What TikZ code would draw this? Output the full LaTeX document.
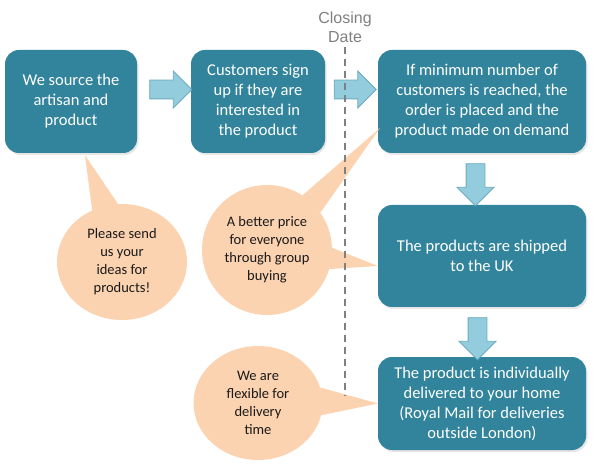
\documentclass[tikz,border=0pt]{standalone}
\usepackage{fontspec}
\setmainfont{Carlito}
\newfontfamily\datefont{Liberation Sans}
\usetikzlibrary{shapes.geometric,shapes.arrows,calc,shadows}
\definecolor{boxteal}{HTML}{31849B}
\definecolor{arrowblue}{HTML}{93CDDD}
\definecolor{arrowline}{HTML}{6AAABF}
\definecolor{bubblepeach}{HTML}{FCD3B0}
\definecolor{bubbletext}{HTML}{1A1A1A}
\definecolor{dategrey}{HTML}{808080}

\begin{document}
\begin{tikzpicture}[x=1pt, y=1pt,
    stage/.style={rectangle, rounded corners=14pt, fill=boxteal, text=white, align=center,
        inner sep=0pt, font=\fontsize{16.5}{20}\selectfont,
        drop shadow={opacity=0.2, shadow xshift=1.5pt, shadow yshift=-2pt}},
    blockarrow/.style={single arrow, draw=arrowline, fill=arrowblue, line width=0.8pt,
        minimum height=42pt, minimum width=36pt, single arrow head extend=9pt,
        inner xsep=0pt, inner ysep=9pt},
    bubble/.style={ellipse, fill=bubblepeach, text=bubbletext, align=center,
        inner sep=0pt, font=\fontsize{14.5}{18}\selectfont},
    tail/.style={fill=bubblepeach},
    cutoff/.style={draw=dategrey, line width=1.5pt, dash pattern=on 7pt off 5pt}]
    \useasboundingbox (0,0) rectangle (600,464);

    % Process steps
    \node[stage, minimum width=132pt, minimum height=103pt] (source) at (71,362.5)
        {We source the\\artisan and\\product};
    \node[stage, minimum width=134pt, minimum height=103pt] (signup) at (258,362.5)
        {Customers sign\\up if they are\\interested in\\the product};
    \node[stage, minimum width=208pt, minimum height=103pt] (order) at (482,362.5)
        {If minimum number of\\customers is reached, the\\order is placed and the\\product made on demand};
    \node[stage, minimum width=208pt, minimum height=102pt] (ship) at (482,208)
        {The products are shipped\\to the UK};
    \node[stage, minimum width=208pt, minimum height=93pt] (deliver) at (482,60.5)
        {The product is individually\\delivered to your home\\(Royal Mail for deliveries\\outside London)};

    % Block arrows between the steps
    \node[blockarrow] (arrowA) at (166,374.5) {};
    \node[blockarrow] (arrowB) at (350.5,374.5) {};
    \node[blockarrow, rotate=-90] (arrowC) at (475.5,284) {};
    \node[blockarrow, rotate=-90] (arrowD) at (477.5,130) {};

    % Speech bubbles
    \node[bubble, minimum width=130pt, minimum height=116pt] (ideas) at (122,202)
        {Please send\\us your\\ideas for\\products!};
    \node[bubble, minimum width=130pt, minimum height=130pt] (price) at (267,214)
        {A better price\\for everyone\\through group\\buying};
    \node[bubble, minimum width=129pt, minimum height=114pt] (flexible) at (258,61)
        {We are\\flexible for\\delivery\\time};

    % Bubble tails
    \fill[tail] (ideas.94) -- ($(source.south)+(14,-2)$) -- (ideas.120) -- cycle;
    \fill[tail] (price.35) -- ($(order.south west)+(2,25)$) -- (price.57) -- cycle;
    \fill[tail] (price.2) -- ($(ship.west)+(0,-10)$) -- (price.-17) -- cycle;
    \fill[tail] (flexible.14) -- (deliver.west) -- (flexible.-11) -- cycle;

    % Closing date line
    \node[text=dategrey, align=center, inner sep=0pt, font=\datefont\fontsize{16}{19}\selectfont]
        (closing) at (345,437) {Closing\\Date};
    \coordinate (lineend) at (345,69);
    \draw[cutoff] ($(closing.south)+(0,-4)$) -- (lineend);
\end{tikzpicture}
\end{document}
